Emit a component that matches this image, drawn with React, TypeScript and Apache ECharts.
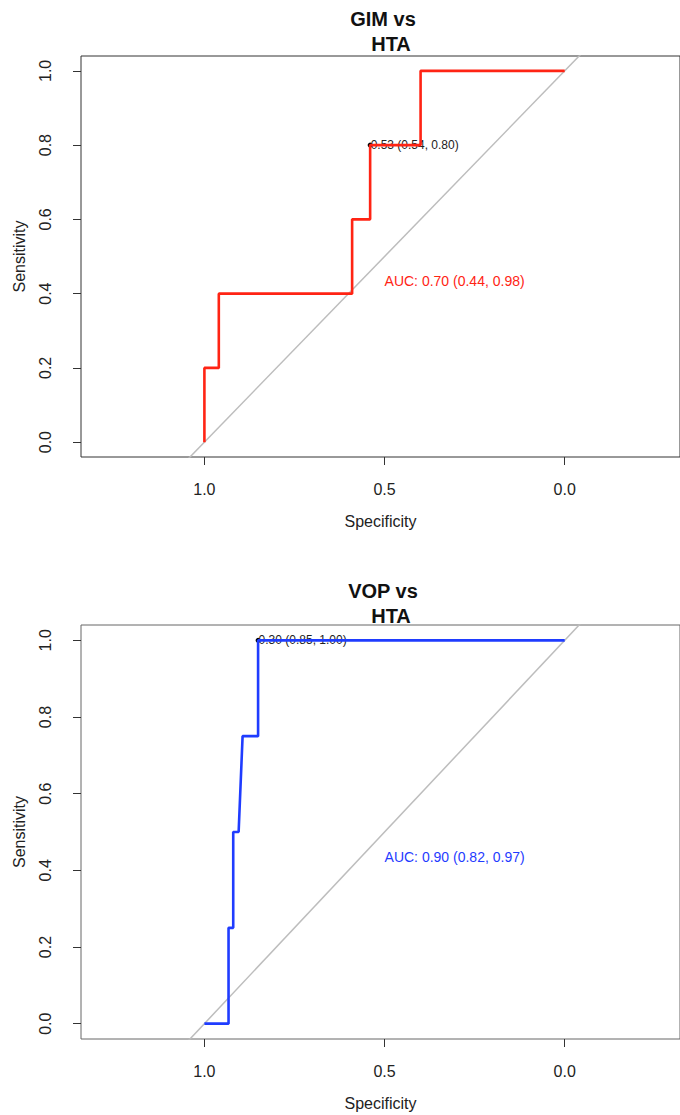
import React, { useEffect, useRef } from "react";
import * as echarts from "echarts";

// GIM vs HTA ROC curve (specificity, sensitivity)
const gimSpec = [1, 1, 0.96, 0.96, 0.59, 0.59, 0.54, 0.54, 0.4, 0.4, 0];
const gimSens = [0, 0.2, 0.2, 0.4, 0.4, 0.6, 0.6, 0.8, 0.8, 1, 1];
const gimBest = [0.54, 0.8];
const gimBestLabel = "0.53 (0.54, 0.80)";
const gimAuc = "AUC: 0.70 (0.44, 0.98)";

// VOP vs HTA ROC curve
const vopSpec = [1, 0.933, 0.933, 0.92, 0.92, 0.905, 0.894, 0.851, 0.851, 0];
const vopSens = [0, 0, 0.25, 0.25, 0.5, 0.5, 0.75, 0.75, 1, 1];
const vopBest = [0.851, 1.0];
const vopBestLabel = "0.30 (0.85, 1.00)";
const vopAuc = "AUC: 0.90 (0.82, 0.97)";

const aucPos = [0.5, 0.435];
const diagSpec = [1.1, -0.1];
const diagSens = [-0.1, 1.1];

const xTicks = [0, 0.5, 1];
const yTicks = [0, 0.2, 0.4, 0.6, 0.8, 1];

const FONT = "'Liberation Sans', Arial, Helvetica, sans-serif";

function zip(a: number[], b: number[]) {
  return a.map((v, i) => [v, b[i]]);
}

export default function App() {
  const ref = useRef<HTMLDivElement>(null);
  useEffect(() => {
    if (!ref.current) return;
    const chart = echarts.init(ref.current, null, { renderer: "svg" });
    const grids = [
      { left: 81, top: 56, height: 401, right: -6, show: true, borderColor: "#333", borderWidth: 1 },
      { left: 81, top: 625, height: 414, right: -6, show: true, borderColor: "#666", borderWidth: 1 },
    ];
    const xAxis = (gi: number) => ({
      gridIndex: gi,
      type: "value",
      inverse: true,
      min: -0.32,
      max: 1.3425,
      splitLine: { show: false },
      axisLine: { show: false, onZero: false },
      axisTick: { show: true, customValues: xTicks, length: 8, lineStyle: { color: "#333" } },
      axisLabel: {
        show: true,
        customValues: xTicks,
        formatter: (v: number) => v.toFixed(1),
        fontSize: 16,
        color: "#222",
        fontFamily: FONT,
        margin: 24,
      },
      name: "Specificity",
      nameLocation: "middle",
      nameGap: 56,
      nameTextStyle: { fontSize: 16, color: "#222", fontFamily: FONT },
    });
    const yAxis = (gi: number) => ({
      gridIndex: gi,
      type: "value",
      min: -0.04,
      max: 1.04,
      splitLine: { show: false },
      axisLine: { show: false, onZero: false },
      axisTick: { show: true, customValues: yTicks, length: 8, lineStyle: { color: "#333" } },
      axisLabel: {
        show: true,
        customValues: yTicks,
        rotate: 90,
        formatter: (v: number) => v.toFixed(1),
        fontSize: 16,
        color: "#222",
        fontFamily: FONT,
        margin: 28,
      },
      name: "Sensitivity",
      nameLocation: "middle",
      nameGap: 54,
      nameRotate: 90,
      nameTextStyle: { fontSize: 16, color: "#222", fontFamily: FONT },
    });

    const panel = (
      gi: number,
      spec: number[],
      sens: number[],
      color: string,
      best: number[],
      bestLabel: string,
      auc: string
    ) => [
      {
        type: "line",
        xAxisIndex: gi,
        yAxisIndex: gi,
        data: zip(diagSpec, diagSens),
        symbol: "none",
        lineStyle: { color: "#bdbdbd", width: 1.5 },
        clip: true,
        silent: true,
      },
      {
        type: "line",
        xAxisIndex: gi,
        yAxisIndex: gi,
        data: zip(spec, sens),
        symbol: "none",
        lineStyle: { color, width: 2.6 },
        clip: false,
      },
      {
        type: "scatter",
        xAxisIndex: gi,
        yAxisIndex: gi,
        data: [best],
        symbol: "circle",
        symbolSize: 5,
        itemStyle: { color: "#000", opacity: 1 },
        label: {
          show: true,
          position: "right",
          distance: -2,
          formatter: bestLabel,
          fontSize: 12,
          color: "#222",
          opacity: 1,
          fontFamily: FONT,
        },
      },
      {
        type: "scatter",
        xAxisIndex: gi,
        yAxisIndex: gi,
        data: [aucPos],
        symbolSize: 0,
        itemStyle: { color: color, opacity: 1 },
        label: {
          show: true,
          position: "right",
          distance: 0,
          formatter: auc,
          fontSize: 14,
          color,
          opacity: 1,
          fontFamily: FONT,
        },
      },
    ];

    const titleStyle = { fontSize: 20, fontWeight: "bold", color: "#111", fontFamily: FONT };
    chart.setOption({
      animation: false,
      textStyle: { fontFamily: FONT },
      title: [
        { text: "GIM vs", left: 383, top: 9, textAlign: "center", textStyle: titleStyle, padding: 0 },
        { text: "HTA", left: 391, top: 34, textAlign: "center", textStyle: titleStyle, padding: 0 },
        { text: "VOP vs", left: 383, top: 581, textAlign: "center", textStyle: titleStyle, padding: 0 },
        { text: "HTA", left: 391, top: 606, textAlign: "center", textStyle: titleStyle, padding: 0 },
      ],
      grid: grids,
      xAxis: [xAxis(0), xAxis(1)],
      yAxis: [yAxis(0), yAxis(1)],
      series: [
        ...panel(0, gimSpec, gimSens, "#ff2414", gimBest, gimBestLabel, gimAuc),
        ...panel(1, vopSpec, vopSens, "#1f3cff", vopBest, vopBestLabel, vopAuc),
      ],
    });
    return () => chart.dispose();
  }, []);
  return (
    <div
      ref={ref}
      style={{ position: "absolute", left: 0, top: 0, width: 680, height: 1115, overflow: "hidden", background: "#fff" }}
    />
  );
}
